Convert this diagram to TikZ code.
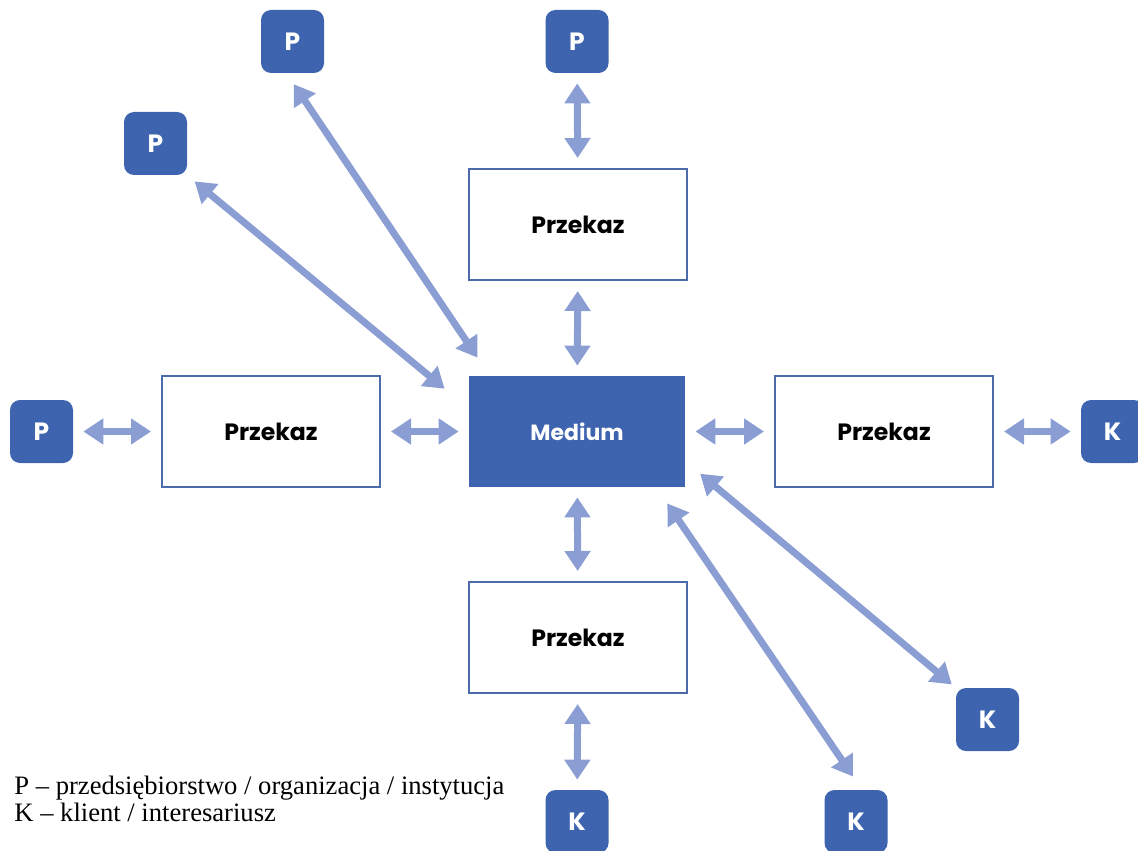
\documentclass[tikz,border=0pt]{standalone}
\usepackage{fontspec}
\setmainfont{Liberation Serif}
\newfontfamily\labelfont{Poppins}
\usepackage{tikz}
\usetikzlibrary{arrows.meta}

\definecolor{boxblue}{HTML}{3E64AF}
\definecolor{edgeblue}{HTML}{4B6BAA}
\definecolor{arrblue}{HTML}{8B9ED4}

\begin{document}
\begin{tikzpicture}[x=0.5pt,y=-0.5pt,
    msg/.style={draw=edgeblue, line width=1pt, fill=white, minimum width=109pt, minimum height=55.5pt, font=\labelfont\bfseries\fontsize{11.8}{13}\selectfont},
    med/.style={fill=boxblue, text=white, minimum width=108pt, minimum height=55.5pt, font=\labelfont\bfseries\fontsize{11}{13}\selectfont},
    tag/.style={fill=boxblue, text=white, rounded corners=5pt, minimum size=31.5pt, font=\labelfont\bfseries\fontsize{12.5}{14}\selectfont},
    arr/.style={arrblue, line width=3.5pt, {Triangle[length=10pt,width=12.5pt]}-{Triangle[length=10pt,width=12.5pt]}, shorten <=5pt, shorten >=5pt}]
            \clip (0,0) rectangle (1138,850);

            \node[med] (M) at (577,431.5) {Medium};
            \node[msg] (Xt) at (578,224.5) {Przekaz};
            \node[msg] (Xl) at (271,431.5) {Przekaz};
            \node[msg] (Xr) at (884,431.5) {Przekaz};
            \node[msg] (Xb) at (578,637.5) {Przekaz};

            \node[tag] (Pt) at (577,41.5) {P};
            \node[tag] (Pa) at (292.5,41.5) {P};
            \node[tag] (Pb) at (155.5,143.5) {P};
            \node[tag] (Pl) at (41.5,431.5) {P};
            \node[tag] (Kr) at (1112.5,431.5) {K};
            \node[tag] (Kc) at (987.5,719.5) {K};
            \node[tag] (Kb) at (856,821.5) {K};
            \node[tag] (Kd) at (577,821.5) {K};

            \draw[arr] (Pl) -- (Xl);
            \draw[arr] (Xl) -- (M);
            \draw[arr] (M) -- (Xr);
            \draw[arr] (Xr) -- (Kr);
            \draw[arr] (Pt) -- (Xt);
            \draw[arr] (Xt) -- (M);
            \draw[arr] (M) -- (Xb);
            \draw[arr] (Xb) -- (Kd);

            \draw[arr, shorten <=6.5pt, shorten >=10.8pt] ([xshift=-3pt]Pa.south) -- ([xshift=10.5pt]M.north west);
            \draw[arr, shorten <=4.7pt, shorten >=15.6pt] (Pb.south east) -- ([yshift=-16.5pt]M.north west);
            \draw[arr, shorten <=9.6pt, shorten >=2.5pt] ([yshift=13pt]M.south east) -- (Kc.north west);
            \draw[arr, shorten <=9.7pt, shorten >=7.9pt] ([xshift=-14.5pt]M.south east) -- ([xshift=3pt]Kb.north);

            \node[anchor=north west, align=left, inner sep=0pt, font=\fontsize{13.3}{13.5}\selectfont] (legend) at (14,776)
                {P -- przedsiębiorstwo / organizacja / instytucja\\K -- klient / interesariusz};
        \end{tikzpicture}
\end{document}
